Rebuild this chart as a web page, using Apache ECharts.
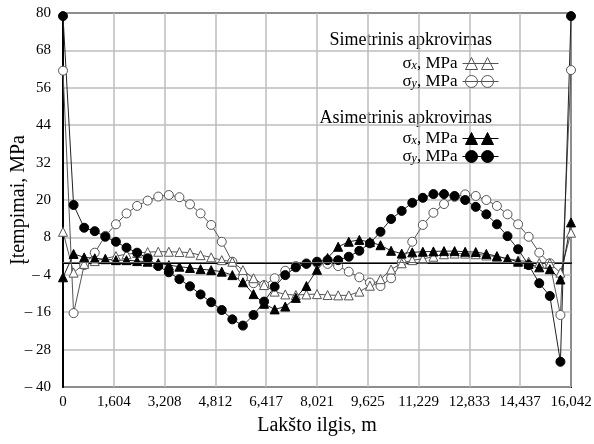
<!DOCTYPE html>
<html>
<head>
<meta charset="utf-8">
<script src="https://cdn.jsdelivr.net/npm/echarts@6/dist/echarts.min.js"></script>
<style>
  html, body { margin: 0; padding: 0; background: #fff; }
  #chart { width: 594px; height: 444px; }
</style>
</head>
<body>
<div id="chart"></div>
<script>
(function () {
    // sheet length (m) and the tick labels printed under the x axis
    var sheetLength = 16.0416;
    var xTickLabels = ["0", "1,604", "3,208", "4,812", "6,417", "8,021", "9,625", "11,229", "12,833", "14,437", "16,042"];
    var yMin = -40, yMax = 80, yStep = 12;

    // 49 measuring points, evenly spaced along the sheet
    var pointCount = 49;

    // Simetrinis apkrovimas
    var symSigmaX = [9.8, -3.3, -0.5, 0.4, 1.2, 2.0, 2.6, 3.0, 3.3, 3.4, 3.4, 3.3, 3.1, 2.3, 1.6, 0.7, 0.2,
        -2.5, -5.1, -7.3, -9.4, -10.3, -10.5, -10.3, -10.2, -10.5, -10.6, -10.6, -9.4, -7.5, -5.4, -2.3,
        -0.3, 0.7, 1.1, 1.8, 2.6, 2.8, 2.8, 2.6, 2.2, 1.8, 1.2, 0.6, 0.2, -0.2, -0.3, -3.3, 9.5];
    var symSigmaY = [61.5, -16.3, -0.9, 3.1, 8.5, 12.2, 15.7, 18.1, 19.8, 21.1, 21.6, 20.9, 18.6, 15.7, 12.0, 6.6, 0.2,
        -5.0, -6.7, -7.3, -5.1, -2.7, -1.2, -0.3, -0.2, -0.5, -1.2, -3.0, -4.8, -6.5, -7.6, -5.1,
        -0.1, 6.6, 12.0, 15.9, 18.7, 21.0, 21.8, 21.3, 20.0, 18.1, 15.4, 12.2, 8.2, 3.1, -0.3, -16.9, 61.7];

    // Asimetrinis apkrovimas
    var asymSigmaX = [-4.8, 2.7, 1.6, 1.3, 1.0, 0.7, 0.7, 0.4, 0.2, -0.3, -0.9, -1.4, -1.8, -2.2, -2.5, -3.0, -4.1,
        -6.4, -10.2, -13.3, -15.1, -14.2, -11.4, -7.6, -2.4, 1.4, 5.0, 6.6, 7.2, 6.5, 5.5, 3.7,
        2.8, 3.2, 3.4, 3.5, 3.6, 3.6, 3.4, 3.3, 2.7, 2.0, 1.1, 0.2, -0.5, -1.6, -2.2, -5.5, 12.8];
    var asymSigmaY = [79, 18.4, 11.1, 10.0, 8.2, 6.6, 4.7, 3.1, 1.3, -1.2, -3.2, -5.4, -7.7, -10.3, -12.8, -15.3, -18.3,
        -20.3, -16.9, -12.6, -7.8, -4.1, -1.6, -0.5, 0.2, 0.7, 0.7, 1.8, 3.7, 6.1, 9.8, 13.9,
        16.5, 19.1, 20.7, 21.9, 21.9, 21.3, 20.0, 17.8, 15.4, 12.2, 8.4, 4.2, -0.9, -6.7, -10.8, -31.9, 79];

    var serif = '"Liberation Serif", "DejaVu Serif", serif';
    var xStep = sheetLength / (xTickLabels.length - 1);

    function toPairs(values) {
        return values.map(function (v, i) {
            return [i * sheetLength / (pointCount - 1), v];
        });
    }

    var legendNames = {
        "sym_sx": "{s|σ}{sub|x}{t|, MPa}",
        "sym_sy": "{s|σ}{sub|y}{t|, MPa}",
        "asym_sx": "{s|σ}{sub|x}{t|, MPa}",
        "asym_sy": "{s|σ}{sub|y}{t|, MPa}"
    };

    var legendText = {
        color: "#000",
        fontFamily: serif,
        fontSize: 17,
        rich: {
            s: { fontFamily: serif, fontSize: 17, color: "#000" },
            sub: { fontFamily: serif, fontSize: 12, fontStyle: "italic", color: "#000", verticalAlign: "bottom" },
            t: { fontFamily: serif, fontSize: 17, color: "#000" }
        }
    };

    var triPath = "path://M0,6L36,6M9,0L15,12L3,12ZM25,0L31,12L19,12Z";
    var circPath = "path://M0,6L36,6M3,6A6,6,0,1,0,15,6A6,6,0,1,0,3,6ZM19,6A6,6,0,1,0,31,6A6,6,0,1,0,19,6Z";

    function legendBlock(names, top, icons, fill) {
        return {
            orient: "vertical",
            right: 95,
            top: top,
            align: "right",
            itemWidth: 36,
            itemHeight: 12,
            itemGap: 1,
            padding: 0,
            selectedMode: false,
            textStyle: legendText,
            formatter: function (name) { return legendNames[name]; },
            data: names.map(function (n, i) {
                return {
                    name: n,
                    icon: icons[i],
                    itemStyle: { color: fill, borderColor: fill === "#fff" ? "#555" : "#000", borderWidth: 1 }
                };
            })
        };
    }

    var chart = echarts.init(document.getElementById("chart"));

    var option = {
        backgroundColor: "#fff",
        animation: false,
        grid: {
            left: 63, right: 23, top: 13, bottom: 57,
            outerBoundsMode: "none",
            containLabel: false,
            show: true, borderColor: "#000", borderWidth: 2
        },
        graphic: [
            {
                type: "text", right: 102, top: 31,
                style: { text: "Simetrinis apkrovimas", font: "18px " + serif, fill: "#000" }
            },
            {
                type: "text", right: 102, top: 109,
                style: { text: "Asimetrinis apkrovimas", font: "18px " + serif, fill: "#000" }
            }
        ],
        legend: [
            legendBlock(["sym_sx", "sym_sy"], 55, [triPath, circPath], "#fff"),
            legendBlock(["asym_sx", "asym_sy"], 130, [triPath, circPath], "#000")
        ],
        xAxis: {
            type: "value",
            min: 0,
            max: xStep * (xTickLabels.length - 1),
            interval: xStep,
            name: "Lakšto ilgis, m",
            nameLocation: "middle",
            nameGap: 29,
            nameMoveOverlap: false,
            nameTextStyle: { fontFamily: serif, fontSize: 20, color: "#000" },
            axisLine: { lineStyle: { color: "#000", width: 2 } },
            axisTick: { show: false },
            axisLabel: {
                margin: 8,
                fontFamily: serif,
                fontSize: 15,
                color: "#000",
                formatter: function (v) { return xTickLabels[Math.round(v / xStep)]; }
            },
            splitLine: { show: true, lineStyle: { color: "#bdbdbd", width: 1.5 } }
        },
        yAxis: {
            type: "value",
            min: yMin,
            max: yMax,
            interval: yStep,
            name: "Įtempimai, MPa",
            nameLocation: "middle",
            nameGap: 34,
            nameMoveOverlap: false,
            nameTextStyle: { fontFamily: serif, fontSize: 20, color: "#000" },
            axisLine: { show: true, lineStyle: { color: "#000", width: 2 } },
            axisTick: { show: false },
            axisLabel: {
                margin: 12,
                fontFamily: serif,
                fontSize: 15,
                color: "#000",
                formatter: function (v) { return v < 0 ? "– " + Math.abs(v) : String(v); }
            },
            splitLine: { show: true, lineStyle: { color: "#bdbdbd", width: 1.5 } }
        },
        series: [
            {
                name: "sym_sy",
                type: "line",
                data: toPairs(symSigmaY),
                symbol: "circle",
                symbolSize: 9,
                itemStyle: { color: "#fff", borderColor: "#555", borderWidth: 1 },
                lineStyle: { color: "#555", width: 1 },
                markLine: {
                    silent: true,
                    symbol: "none",
                    label: { show: false },
                    lineStyle: { color: "#666", width: 1, type: "solid" },
                    data: [{ yAxis: 0 }]
                }
            },
            {
                name: "sym_sx",
                type: "line",
                data: toPairs(symSigmaX),
                symbol: "triangle",
                symbolSize: 9,
                itemStyle: { color: "#fff", borderColor: "#555", borderWidth: 1 },
                lineStyle: { color: "#555", width: 1 }
            },
            {
                name: "asym_sx",
                type: "line",
                data: toPairs(asymSigmaX),
                symbol: "triangle",
                symbolSize: 9,
                itemStyle: { color: "#000", borderColor: "#000", borderWidth: 1 },
                lineStyle: { color: "#222", width: 1 }
            },
            {
                name: "asym_sy",
                type: "line",
                data: toPairs(asymSigmaY),
                symbol: "circle",
                symbolSize: 9,
                itemStyle: { color: "#000", borderColor: "#000", borderWidth: 1 },
                lineStyle: { color: "#222", width: 1 }
            }
        ]
    };

    chart.setOption(option);

    window.addEventListener("resize", function () {
        chart.resize();
    });
})();
</script>
</body>
</html>
